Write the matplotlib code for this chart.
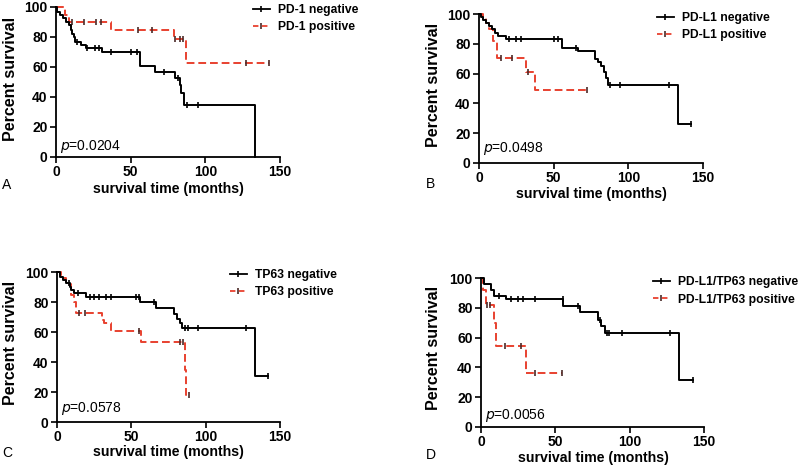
import matplotlib.pyplot as plt
from matplotlib.lines import Line2D
import numpy as np

plt.rcParams['font.family'] = ['Liberation Sans', 'DejaVu Sans']

RED = '#e8412f'
CENS_RED = '#4a2a28'

# A: PD-1
a_neg_t = [0, 1, 3, 5, 7, 9, 10, 11, 12, 13, 17, 20, 31, 56, 66, 80, 83, 84, 86, 133.5]
a_neg_s = [100, 97, 95, 93, 90, 88, 85, 82, 80, 77, 75, 73, 70, 61, 57, 53, 48, 43, 35, 0]
a_neg_end = 133.5
a_neg_cens = [14, 21, 26, 29, 37, 50, 54.5, 72, 82, 88, 95]
a_pos_t = [0, 6, 9, 37, 79, 87]
a_pos_s = [100, 95, 90, 85, 79, 63]
a_pos_end = 142.5
a_pos_cens = [11, 19, 27, 30, 55, 64, 80, 83, 85, 127, 142.5]

# B: PD-L1
b_neg_t = [0, 1.6, 3, 5, 7, 9, 10.5, 12.8, 18.4, 55.3, 66.5, 77.7, 80, 82, 83.7, 85, 86.6, 133]
b_neg_s = [100, 98, 96, 94, 92, 90, 87, 85, 83, 77.5, 75, 70, 68, 65, 61, 57, 52.5, 26]
b_neg_end = 142
b_neg_cens = [20, 25, 28, 50, 53, 65, 88, 94.5, 127, 142]
b_pos_t = [0, 2.7, 5, 7, 9.4, 12, 31.3, 37.4]
b_pos_s = [100, 97, 94, 90, 82, 70.6, 61.4, 48.7]
b_pos_end = 72
b_pos_cens = [15, 22, 33, 72]

# C: TP63
c_neg_t = [0, 1.8, 4, 6.3, 8.5, 9.7, 11.2, 19.3, 55.7, 66.9, 78.6, 80.4, 82.6, 84.4, 133.2]
c_neg_s = [100, 97, 95, 93, 90, 88, 86, 83.5, 80, 76, 72, 68.5, 66, 62.5, 31]
c_neg_end = 142
c_neg_cens = [8, 14, 22, 25, 28, 33, 36, 53, 55, 65, 86, 88, 95, 127, 142]
c_pos_t = [0, 2.9, 6.3, 9.7, 11.2, 13, 30, 31.5, 36.6, 56.8, 86, 87]
c_pos_s = [100, 96, 92, 85, 80, 72.5, 68, 66, 60.5, 53.5, 35, 18]
c_pos_end = 88.9
c_pos_cens = [15, 19, 55, 83, 85, 88.9]

# D: PD-L1/TP63
d_neg_t = [0, 2, 6.5, 8.8, 16.9, 55.2, 66.4, 78.8, 80.4, 83.3, 132.9]
d_neg_s = [100, 96, 92, 88, 86, 81.5, 77, 72, 68, 63, 31.5]
d_neg_end = 142.6
d_neg_cens = [12, 20, 25, 28, 36, 55, 65, 80, 85, 86, 95, 127, 142.6]
d_pos_t = [0, 1.6, 3.4, 8.8, 10.4, 30.2]
d_pos_s = [100, 92, 82, 69.5, 54.5, 36.5]
d_pos_end = 54.7
d_pos_cens = [4, 6, 16, 27, 36, 54.7]

labels_neg = ['PD-1 negative', 'PD-L1 negative', 'TP63 negative', 'PD-L1/TP63 negative']
labels_pos = ['PD-1 positive', 'PD-L1 positive', 'TP63 positive', 'PD-L1/TP63 positive']
p_values = ['0.0204', '0.0498', '0.0578', '0.0056']
letters = ['A', 'B', 'C', 'D']

W, H = 800, 467


def km(ax, t, s, end, cens, color, ls, mcolor):
    tt = list(t) + [end]
    ss = list(s) + [s[-1]]
    ax.step(tt, ss, where='post', color=color, ls=ls, lw=1.4, clip_on=False,
            dashes=(4, 2) if ls == '--' else (None, None))
    cy = [ss[np.searchsorted(tt, c, side='right') - 1] for c in cens]
    ax.plot(cens, cy, ls='none', marker='|', ms=4.5, mew=1.2, color=mcolor, clip_on=False)


# axes boxes in pixels: left, top, right, bottom
boxes = [(56, 7, 280, 157), (479, 14, 703, 163), (57, 272, 280, 422), (481, 278, 704, 427)]
ylab_pos = [(11, 79), (434, 85), (11, 343), (434, 348)]
xlab_pos = [(168, 189), (591, 194), (168, 452), (593, 458)]
let_pos = [(7, 185), (431, 184), (7, 453), (431, 455)]
leg_pos = [(253, 18.5), (657, 26.5), (230, 283.5), (653, 291)]
p_y = [0.073, 0.094, 0.087, 0.08]

data = [
    (a_neg_t, a_neg_s, a_neg_end, a_neg_cens, a_pos_t, a_pos_s, a_pos_end, a_pos_cens),
    (b_neg_t, b_neg_s, b_neg_end, b_neg_cens, b_pos_t, b_pos_s, b_pos_end, b_pos_cens),
    (c_neg_t, c_neg_s, c_neg_end, c_neg_cens, c_pos_t, c_pos_s, c_pos_end, c_pos_cens),
    (d_neg_t, d_neg_s, d_neg_end, d_neg_cens, d_pos_t, d_pos_s, d_pos_end, d_pos_cens),
]

fig = plt.figure(figsize=(8, 4.67), dpi=100)

for i in range(4):
    l, t, r, b = boxes[i]
    ax = fig.add_axes([l / W, 1 - b / H, (r - l) / W, (b - t) / H])
    nt, ns, ne, nc, pt, ps, pe, pc = data[i]
    km(ax, pt, ps, pe, pc, RED, '--', CENS_RED)
    km(ax, nt, ns, ne, nc, 'black', '-', 'black')

    ax.set_xlim(0, 150)
    ax.set_ylim(0, 100)
    ax.set_xticks([0, 50, 100, 150])
    ax.set_yticks([0, 20, 40, 60, 80, 100])
    for lab in ax.get_xticklabels() + ax.get_yticklabels():
        lab.set_fontweight('bold')
        lab.set_fontsize(10)
    ax.tick_params(direction='out', length=4, width=1.2, pad=2)
    for sp in ['top', 'right']:
        ax.spines[sp].set_visible(False)
    for sp in ['left', 'bottom']:
        ax.spines[sp].set_linewidth(1.3)

    ax.text(0.02, p_y[i], '$\\it{p}$=' + p_values[i], transform=ax.transAxes,
            fontsize=10, va='center', ha='left')

    x, y = ylab_pos[i]
    fig.text(x / W, 1 - y / H, 'Percent survival', rotation=90, ha='center', va='center',
             fontsize=11.5, fontweight='bold')
    x, y = xlab_pos[i]
    fig.text(x / W, 1 - y / H, 'survival time (months)', ha='center', va='center',
             fontsize=10.2, fontweight='bold')
    x, y = let_pos[i]
    fig.text(x / W, 1 - y / H, letters[i], ha='center', va='center', fontsize=10)

    handles = [Line2D([], [], color='black', lw=1.3, marker='|', ms=5, mew=1.2),
               Line2D([], [], color=RED, lw=1.3, ls='--', dashes=(3, 2), marker='|', ms=5,
                      mew=1.2, markeredgecolor=CENS_RED)]
    x, y = leg_pos[i]
    leg = ax.legend(handles, [labels_neg[i], labels_pos[i]], loc='center left',
                    bbox_to_anchor=(x / W, 1 - y / H), bbox_transform=fig.transFigure,
                    frameon=False, borderpad=0, borderaxespad=0, handlelength=1.4,
                    handletextpad=0.7, labelspacing=0.45,
                    prop={'weight': 'bold', 'size': 8.7})

fig.savefig('out.png', dpi=100)
